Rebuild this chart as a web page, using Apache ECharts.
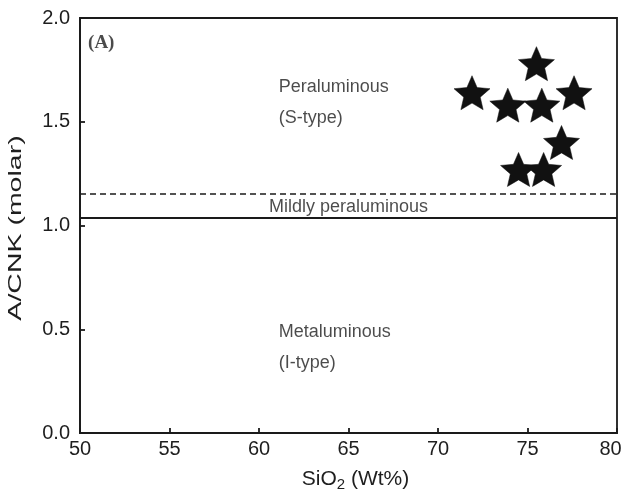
<!DOCTYPE html>
<html>
<head>
<meta charset="utf-8">
<script src="https://cdn.jsdelivr.net/npm/echarts@6/dist/echarts.min.js"></script>
<style>
  html, body { margin: 0; padding: 0; background: #fff; }
  #chart { width: 625px; height: 490px; }
</style>
</head>
<body>
<div id="chart"></div>
<script>
// Granite samples: SiO2 (wt%) vs A/CNK (molar)
const sio2 = [75.5, 71.9, 73.9, 75.8, 77.6, 76.9, 74.5, 75.9];
const acnk = [1.78, 1.64, 1.58, 1.58, 1.64, 1.40, 1.27, 1.27];

// Field boundaries
const boundaryX = [50, 80];
const dashedLevel = 1.152;   // upper limit of the mildly peraluminous field
const solidLevel = 1.036;    // lower limit of the mildly peraluminous field

// Tick labels
const xTicks = [50, 55, 60, 65, 70, 75, 80];
const yTicks = [0.0, 0.5, 1.0, 1.5, 2.0];

// Field names and where they sit in data space
const fieldNames = ['Peraluminous', '(S-type)', 'Metaluminous', '(I-type)'];
const fieldX = [61.1, 61.1, 61.1, 61.1];
const fieldY = [1.667, 1.518, 0.487, 0.337];
const mildName = 'Mildly peraluminous';
const mildPos = [65.0, 1.089];
const panelTag = '(A)';
const panelPos = [50.45, 1.88];
const yTitle = 'A/CNK (molar)';

// Five-pointed star with fairly broad arms
const STAR = 'path://M50,4 L62.93,34.2 L95.65,37.17 L70.92,58.8 L78.21,90.83 L50,74 L21.79,90.83 L29.08,58.8 L4.35,37.17 L37.07,34.2 Z';
const INK = '#1a1a1a';
const TEXT = '#1e1e1e';
const FONT = 'Liberation Sans, Arial, sans-serif';

const chart = echarts.init(document.getElementById('chart'), null, { renderer: 'canvas' });

chart.setOption({
  animation: false,
  backgroundColor: '#fff',
  grid: {
    left: 80, right: 8, top: 18, bottom: 57,
    containLabel: false,
    outerBoundsMode: 'none',
    show: true, borderColor: INK, borderWidth: 1.8, backgroundColor: 'transparent'
  },
  graphic: [
    {
      // y-axis title, stretched along its length
      type: 'text',
      x: 16, y: 228,
      rotation: Math.PI / 2,
      scaleX: 1.5,
      style: {
        text: yTitle,
        fill: TEXT,
        font: '19px ' + FONT,
        align: 'center',
        verticalAlign: 'middle'
      },
      silent: true
    }
  ],
  xAxis: {
    type: 'value', min: 50, max: 80, interval: 5,
    name: '{a|SiO}{b|2}{a| (Wt%)}',
    nameLocation: 'middle', nameGap: 33,
    nameTextStyle: {
      padding: [0, 0, 0, 14],
      rich: {
        a: { fontSize: 21, color: TEXT, fontFamily: FONT, lineHeight: 24, verticalAlign: 'bottom' },
        b: { fontSize: 15, color: TEXT, fontFamily: FONT, lineHeight: 24, verticalAlign: 'bottom', padding: [0, 0, -2, 0] }
      }
    },
    axisLine: { show: true, lineStyle: { color: INK, width: 1.8 } },
    axisTick: { show: true, inside: true, length: 5, lineStyle: { color: INK, width: 1.8 } },
    splitLine: { show: false },
    axisLabel: {
      color: TEXT, fontSize: 20, fontFamily: FONT, margin: 6,
      formatter: v => {
        if (!xTicks.includes(v)) return '';
        // keep the last label inside the canvas
        return v === xTicks[xTicks.length - 1] ? '{last|' + v + '}' : String(v);
      },
      rich: {
        last: { fontSize: 20, color: TEXT, fontFamily: FONT, padding: [0, 13, 0, 0] }
      }
    }
  },
  yAxis: {
    type: 'value', min: 0, max: 2, interval: 0.5,
    axisLine: { show: true, lineStyle: { color: INK, width: 1.8 } },
    axisTick: { show: true, inside: true, length: 5, lineStyle: { color: INK, width: 1.8 } },
    splitLine: { show: false },
    axisLabel: {
      color: TEXT, fontSize: 20, fontFamily: FONT, margin: 10,
      formatter: v => {
        const t = yTicks.find(k => Math.abs(k - v) < 1e-9);
        return t === undefined ? '' : t.toFixed(1);
      }
    }
  },
  series: [
    {
      name: 'upper boundary',
      type: 'line',
      data: boundaryX.map(x => [x, dashedLevel]),
      symbol: 'none',
      lineStyle: { color: INK, width: 1.6, type: [6, 4] },
      silent: true
    },
    {
      name: 'lower boundary',
      type: 'line',
      data: boundaryX.map(x => [x, solidLevel]),
      symbol: 'none',
      lineStyle: { color: INK, width: 2, type: 'solid' },
      silent: true
    },
    {
      name: 'fields',
      type: 'scatter',
      symbolSize: 0,
      silent: true,
      data: fieldNames.map((n, i) => ({ value: [fieldX[i], fieldY[i]], name: n })),
      label: {
        show: true, position: 'right', distance: 0,
        formatter: p => p.name,
        color: TEXT, fontSize: 18, fontFamily: FONT
      }
    },
    {
      name: 'mild',
      type: 'scatter',
      symbolSize: 0,
      silent: true,
      data: [{ value: mildPos, name: mildName }],
      label: {
        show: true, position: 'inside',
        formatter: p => p.name,
        color: TEXT, fontSize: 18, fontFamily: FONT
      }
    },
    {
      name: 'panel',
      type: 'scatter',
      symbolSize: 0,
      silent: true,
      data: [{ value: panelPos, name: panelTag }],
      label: {
        show: true, position: 'right', distance: 0,
        formatter: p => p.name,
        color: TEXT, fontSize: 19, fontWeight: 'bold',
        fontFamily: 'Liberation Serif, Times New Roman, serif'
      }
    },
    {
      name: 'samples',
      type: 'scatter',
      symbol: STAR,
      symbolSize: [36, 34],
      itemStyle: { color: '#111', borderColor: '#111', borderWidth: 0.5, opacity: 1 },
      data: sio2.map((x, i) => [x, acnk[i]]),
      z: 5
    }
  ]
});
</script>
</body>
</html>
